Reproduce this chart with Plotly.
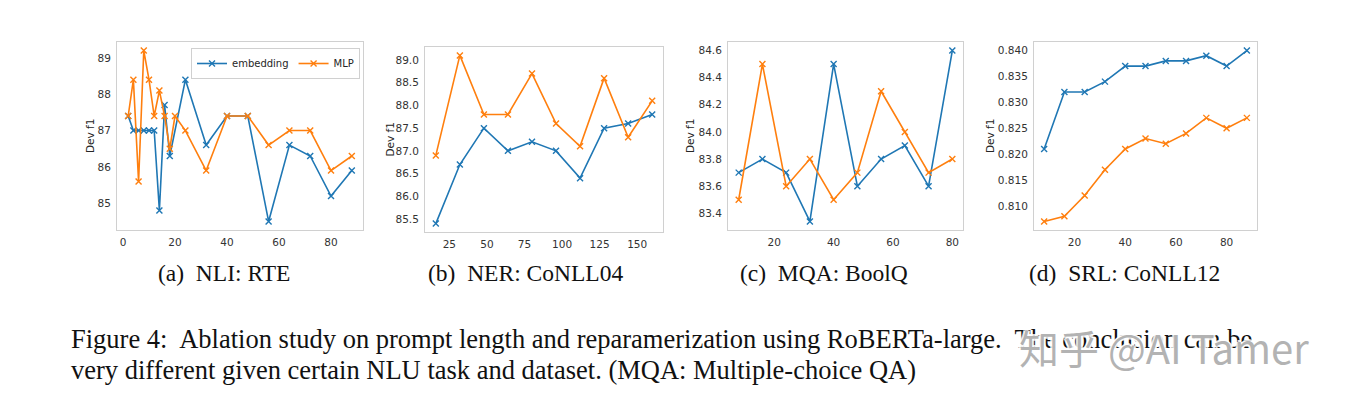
import plotly.graph_objects as go

# page has an 8px body margin: the figure is drawn 8px right/down,
# so every reference pixel position is shifted back by OFF.
OFF = 8
W, H = 1348 - OFF, 401 - OFF

# ---------------- data ----------------
# (a) NLI: RTE
a_x_emb = [2, 4, 6, 8, 10, 12, 14, 16, 18, 24, 32, 40, 48, 56, 64, 72, 80, 88]
a_emb = [87.4, 87.0, 87.0, 87.0, 87.0, 87.0, 84.8, 87.7, 86.3, 88.4, 86.6, 87.4, 87.4, 84.5, 86.6, 86.3, 85.2, 85.9]
a_x_mlp = [2, 4, 6, 8, 10, 12, 14, 16, 18, 20, 24, 32, 40, 48, 56, 64, 72, 80, 88]
a_mlp = [87.4, 88.4, 85.6, 89.2, 88.4, 87.4, 88.1, 87.4, 86.5, 87.4, 87.0, 85.9, 87.4, 87.4, 86.6, 87.0, 87.0, 85.9, 86.3]

# (b) NER: CoNLL04
b_x = [16, 32, 48, 64, 80, 96, 112, 128, 144, 160]
b_emb = [85.4, 86.7, 87.5, 87.0, 87.2, 87.0, 86.4, 87.5, 87.6, 87.8]
b_mlp = [86.9, 89.1, 87.8, 87.8, 88.7, 87.6, 87.1, 88.6, 87.3, 88.1]

# (c) MQA: BoolQ
c_x = [8, 16, 24, 32, 40, 48, 56, 64, 72, 80]
c_emb = [83.7, 83.8, 83.7, 83.34, 84.5, 83.6, 83.8, 83.9, 83.6, 84.6]
c_mlp = [83.5, 84.5, 83.6, 83.8, 83.5, 83.7, 84.3, 84.0, 83.7, 83.8]

# (d) SRL: CoNLL12
d_x = [8, 16, 24, 32, 40, 48, 56, 64, 72, 80, 88]
d_emb = [0.821, 0.832, 0.832, 0.834, 0.837, 0.837, 0.838, 0.838, 0.839, 0.837, 0.840]
d_mlp = [0.807, 0.808, 0.812, 0.817, 0.821, 0.823, 0.822, 0.824, 0.827, 0.825, 0.827]

series_names = ["embedding", "MLP"]
captions = ["(a)  NLI: RTE", "(b)  NER: CoNLL04", "(c)  MQA: BoolQ", "(d)  SRL: CoNLL12"]
y_label = "Dev f1"
fig_caption_1 = ("Figure 4:  Ablation study on prompt length and reparamerization using "
                 "RoBERTa-large.  The conclusion can be")
fig_caption_2 = "very different given certain NLU task and dataset. (MQA: Multiple-choice QA)"
watermark = "知乎 @AI Tamer"

# tick settings
a_xticks = [0, 20, 40, 60, 80]
a_yticks = [85, 86, 87, 88, 89]
b_xticks = [25, 50, 75, 100, 125, 150]
b_yticks = [85.5, 86.0, 86.5, 87.0, 87.5, 88.0, 88.5, 89.0]
c_xticks = [20, 40, 60, 80]
c_yticks = [83.4, 83.6, 83.8, 84.0, 84.2, 84.4, 84.6]
d_xticks = [20, 40, 60, 80]
d_yticks = [0.810, 0.815, 0.820, 0.825, 0.830, 0.835, 0.840]

# ---------------- layout helpers ----------------
BLUE = "#1f77b4"
ORANGE = "#ff7f0e"

def px_x(p):
    return (p - OFF) / W

def px_y(p):
    return 1 - (p - OFF) / H

def mpl_range(vals, m=0.05):
    lo, hi = min(vals), max(vals)
    s = hi - lo
    return [lo - m * s, hi + m * s]

panels = [
    dict(xe=a_x_emb, ye=a_emb, xm=a_x_mlp, ym=a_mlp, box=(117, 363, 42, 230),
         xt=a_xticks, yt=a_yticks, yfmt="d", ylab_x=90, cap_x=224),
    dict(xe=b_x, ye=b_emb, xm=b_x, ym=b_mlp, box=(425, 663, 47, 232),
         xt=b_xticks, yt=b_yticks, yfmt=".1f", ylab_x=389, cap_x=525),
    dict(xe=c_x, ye=c_emb, xm=c_x, ym=c_mlp, box=(728, 963, 42, 230),
         xt=c_xticks, yt=c_yticks, yfmt=".1f", ylab_x=690, cap_x=824),
    dict(xe=d_x, ye=d_emb, xm=d_x, ym=d_mlp, box=(1034, 1257, 42, 230),
         xt=d_xticks, yt=d_yticks, yfmt=".3f", ylab_x=990, cap_x=1124),
]

fig = go.Figure()
annotations = []
layout_axes = {}

for i, p in enumerate(panels):
    n = "" if i == 0 else str(i + 1)
    xa, ya = "x" + n, "y" + n
    for xs, ys, color, name in [(p["xe"], p["ye"], BLUE, series_names[0]),
                                (p["xm"], p["ym"], ORANGE, series_names[1])]:
        fig.add_trace(go.Scatter(
            x=xs, y=ys, mode="lines+markers", name=name,
            showlegend=(i == 0), xaxis=xa, yaxis=ya,
            line=dict(color=color, width=1.6),
            marker=dict(symbol="x-thin", size=6, color=color,
                        line=dict(width=1.4, color=color)),
        ))
    l, r, t, b = p["box"]
    allx = list(p["xe"]) + list(p["xm"])
    ally = list(p["ye"]) + list(p["ym"])
    common = dict(showline=True, mirror=True, linecolor="#d0d0d0", linewidth=1,
                  showgrid=False, zeroline=False, ticks="",
                  tickfont=dict(family="DejaVu Sans", size=10.5, color="#333333"))
    layout_axes["xaxis" + n] = dict(common, domain=[px_x(l), px_x(r)],
                                    range=mpl_range(allx), tickvals=p["xt"],
                                    anchor=ya, ticklabelstandoff=2)
    layout_axes["yaxis" + n] = dict(common, domain=[px_y(b), px_y(t)],
                                    range=mpl_range(ally), tickvals=p["yt"],
                                    tickformat=p["yfmt"], anchor=xa,
                                    ticklabelstandoff=3)
    annotations.append(dict(text=y_label, x=px_x(p["ylab_x"]), y=px_y((t + b) / 2),
                            xref="paper", yref="paper", showarrow=False,
                            textangle=-90, xanchor="center", yanchor="middle",
                            font=dict(family="DejaVu Sans", size=10.5, color="#262626")))
    annotations.append(dict(text=captions[i], x=px_x(p["cap_x"]), y=px_y(273),
                            xref="paper", yref="paper", showarrow=False,
                            xanchor="center", yanchor="middle",
                            font=dict(family="Liberation Serif", size=23.5, color="#111111")))

annotations.append(dict(text=fig_caption_1, x=px_x(69), y=px_y(339), xref="paper", yref="paper",
                        showarrow=False, xanchor="left", yanchor="middle",
                        font=dict(family="Liberation Serif", size=26.5, color="#111111")))
annotations.append(dict(text=fig_caption_2, x=px_x(69), y=px_y(370), xref="paper", yref="paper",
                        showarrow=False, xanchor="left", yanchor="middle",
                        font=dict(family="Liberation Serif", size=26.5, color="#111111")))
annotations.append(dict(text=watermark, x=px_x(1017), y=px_y(347), xref="paper", yref="paper",
                        showarrow=False, xanchor="left", yanchor="middle",
                        font=dict(family="Noto Sans CJK SC", size=40, color="rgba(165,165,165,0.85)",
                                  shadow="2px 0 0 white, -2px 0 0 white, 0 2px 0 white, 0 -2px 0 white")))

fig.update_layout(
    width=W, height=H, autosize=False,
    margin=dict(l=0, r=0, t=0, b=0),
    paper_bgcolor="white", plot_bgcolor="white",
    annotations=annotations,
    legend=dict(orientation="h", x=px_x(360), xanchor="right", y=px_y(48), yanchor="top",
                bgcolor="white", bordercolor="#d0d0d0", borderwidth=1,
                font=dict(family="DejaVu Sans", size=10, color="#262626"),
                tracegroupgap=0),
    **layout_axes,
)

fig.write_html("out.html")
